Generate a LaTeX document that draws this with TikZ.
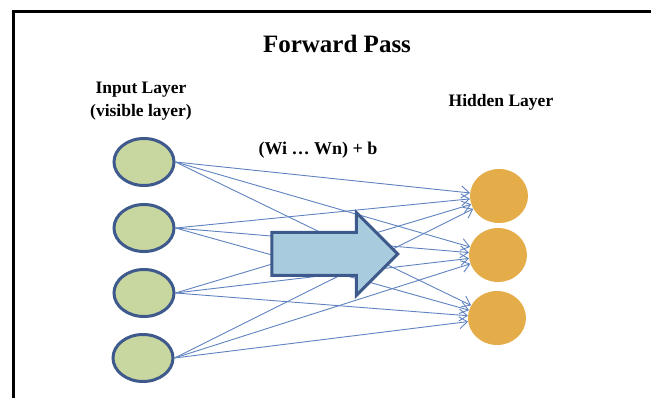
\documentclass[tikz,border=0pt]{standalone}
\usepackage{fontspec}
\setmainfont{Liberation Serif}
\usetikzlibrary{arrows.meta, positioning, shapes.geometric, shapes.arrows}

\definecolor{inputfill}{RGB}{200,214,160}
\definecolor{inputline}{RGB}{62,90,140}
\definecolor{hiddenfill}{RGB}{229,172,74}
\definecolor{linkblue}{RGB}{95,130,192}
\definecolor{passfill}{RGB}{168,204,222}

\begin{document}
\begin{tikzpicture}[
x=1pt, y=-1pt,
label/.style={font=\fontsize{17.5}{23}\selectfont\bfseries, align=center},
inunit/.style={ellipse, draw=inputline, line width=3pt, fill=inputfill, minimum width=60pt, minimum height=47pt, inner sep=0pt},
hidunit/.style={ellipse, fill=hiddenfill, minimum width=58pt, minimum height=54pt, inner sep=0pt},
link/.style={-{Straight Barb[length=8pt, width=12pt]}, draw=linkblue, line width=0.9pt},
passarrow/.style={single arrow, draw=inputline, line width=3pt, fill=passfill, minimum height=126pt, single arrow head extend=20pt, inner xsep=0pt, inner ysep=20pt, single arrow head indent=0pt}
]

\useasboundingbox (0,0) rectangle (651,398);
\draw[line width=3pt] (13,398) -- (13,12) -- (651,12);

\node[font=\fontsize{25}{30}\selectfont\bfseries] (title) at (337,44) {Forward Pass};
\node[label] (inlabel) at (141,101) {Input Layer\\(visible layer)};
\node[label] (hidlabel) at (501,102) {Hidden Layer};
\node[font=\fontsize{18}{22}\selectfont\bfseries] (weights) at (318,150) {(Wi … Wn) + b};

\node[inunit] (in1) at (144,162) {};
\node[inunit] (in2) at (144,228) {};
\node[inunit] (in3) at (144,293) {};
\node[inunit] (in4) at (143,358) {};

\node[hidunit] (hid1) at (499,196) {};
\node[hidunit] (hid2) at (498,255) {};
\node[hidunit] (hid3) at (497,318) {};

\draw[link] (in1.east) -- (hid1);
\draw[link] (in1.east) -- (hid2);
\draw[link] (in1.east) -- (hid3);
\draw[link] (in2.east) -- (hid1);
\draw[link] (in2.east) -- (hid2);
\draw[link] (in2.east) -- (hid3);
\draw[link] (in3.east) -- (hid1);
\draw[link] (in3.east) -- (hid2);
\draw[link] (in3.east) -- (hid3);
\draw[link] (in4.east) -- (hid1);
\draw[link] (in4.east) -- (hid2);
\draw[link] (in4.east) -- (hid3);

\node[passarrow] (fwd) at (324,254) {};

\end{tikzpicture}
\end{document}
